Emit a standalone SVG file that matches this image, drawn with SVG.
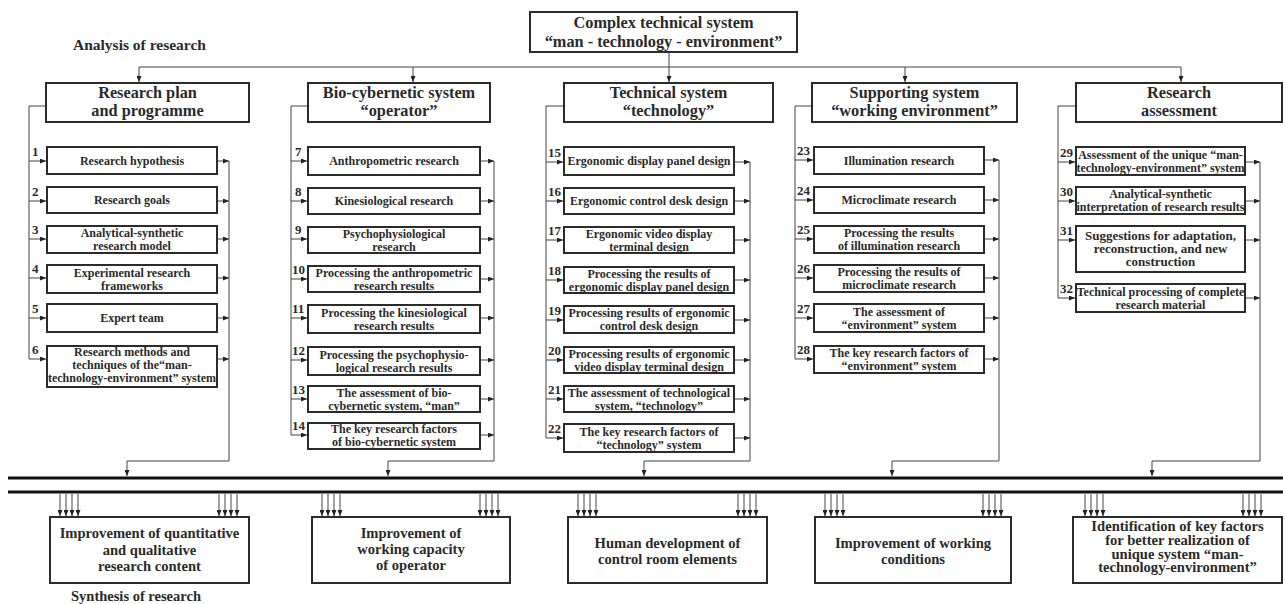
<svg xmlns="http://www.w3.org/2000/svg" width="1285" height="604" viewBox="0 0 1285 604">
<style>
.b{fill:#fff;stroke:#2b2b2b;stroke-width:2}
.t{font-family:"Liberation Serif","Times New Roman",serif;font-weight:bold;fill:#2a2a2a;text-anchor:middle}
.s{font-size:12px}
.s13{font-size:13px}
.h{font-size:16.3px}
.m{font-size:14.6px}
.n{font-size:13px;text-anchor:start}
.lbl{font-size:15.5px;text-anchor:start}
.c{fill:none;stroke:#444;stroke-width:1}
.a{marker-end:url(#ar)}
.bus{stroke:#111;stroke-width:3}
</style>
<defs>
<marker id="ar" markerUnits="userSpaceOnUse" markerWidth="6" markerHeight="5" refX="6" refY="2.5" orient="auto"><path d="M0,0 L6,2.5 L0,5 z" fill="#222"/></marker>
</defs>
<rect width="1285" height="604" fill="#fff"/>

<g id="labels">
<text class="t lbl" x="73" y="50">Analysis of research</text>
<text class="t lbl" x="71" y="601" style="font-size:14.5px">Synthesis of research</text>
</g>

<g id="connectors">
<path class="c a" d="M669,53 V82"/>
<path class="c" d="M139,67 H1181"/>
<path class="c a" d="M139,67 V82"/>
<path class="c a" d="M413,67 V82"/>
<path class="c a" d="M905,67 V82"/>
<path class="c a" d="M1181,67 V82"/>
<!-- col1 -->
<path class="c" d="M46,106 H29 V359"/>
<path class="c a" d="M29,161 H46"/><path class="c a" d="M29,201 H46"/><path class="c a" d="M29,239 H46"/><path class="c a" d="M29,278 H46"/><path class="c a" d="M29,318 H46"/><path class="c a" d="M29,359 H46"/>
<path class="c a" d="M218,161 H229"/><path class="c a" d="M218,201 H229"/><path class="c a" d="M218,239 H229"/><path class="c a" d="M218,278 H229"/><path class="c a" d="M218,318 H229"/><path class="c a" d="M218,359 H229"/>
<path class="c a" d="M229,161 V461 H127 V476"/>
<!-- col2 -->
<path class="c" d="M307,106 H291 V435"/>
<path class="c a" d="M291,161 H307"/><path class="c a" d="M291,201 H307"/><path class="c a" d="M291,239 H307"/><path class="c a" d="M291,279 H307"/><path class="c a" d="M291,318 H307"/><path class="c a" d="M291,360 H307"/><path class="c a" d="M291,399 H307"/><path class="c a" d="M291,435 H307"/>
<path class="c a" d="M481,161 H494"/><path class="c a" d="M481,201 H494"/><path class="c a" d="M481,239 H494"/><path class="c a" d="M481,279 H494"/><path class="c a" d="M481,318 H494"/><path class="c a" d="M481,360 H494"/><path class="c a" d="M481,399 H494"/><path class="c a" d="M481,435 H494"/>
<path class="c a" d="M494,161 V461 H388 V476"/>
<!-- col3 -->
<path class="c" d="M563,106 H546 V438"/>
<path class="c a" d="M546,162 H563"/><path class="c a" d="M546,201 H563"/><path class="c a" d="M546,240 H563"/><path class="c a" d="M546,280 H563"/><path class="c a" d="M546,320 H563"/><path class="c a" d="M546,360 H563"/><path class="c a" d="M546,399 H563"/><path class="c a" d="M546,438 H563"/>
<path class="c a" d="M735,162 H750"/><path class="c a" d="M735,201 H750"/><path class="c a" d="M735,240 H750"/><path class="c a" d="M735,280 H750"/><path class="c a" d="M735,320 H750"/><path class="c a" d="M735,360 H750"/><path class="c a" d="M735,399 H750"/><path class="c a" d="M735,438 H750"/>
<path class="c a" d="M750,162 V461 H644 V476"/>
<!-- col4 -->
<path class="c" d="M811,106 H795 V359"/>
<path class="c a" d="M795,160 H813"/><path class="c a" d="M795,200 H813"/><path class="c a" d="M795,239 H813"/><path class="c a" d="M795,278 H813"/><path class="c a" d="M795,318 H813"/><path class="c a" d="M795,359 H813"/>
<path class="c a" d="M985,160 H999"/><path class="c a" d="M985,200 H999"/><path class="c a" d="M985,239 H999"/><path class="c a" d="M985,278 H999"/><path class="c a" d="M985,318 H999"/><path class="c a" d="M985,359 H999"/>
<path class="c a" d="M999,160 V461 H892 V476"/>
<!-- col5 -->
<path class="c" d="M1075,106 H1058 V298"/>
<path class="c a" d="M1058,162 H1075"/><path class="c a" d="M1058,201 H1075"/><path class="c a" d="M1058,240 H1075"/><path class="c a" d="M1058,298 H1075"/>
<path class="c a" d="M1246,162 H1260"/><path class="c a" d="M1246,201 H1260"/><path class="c a" d="M1246,240 H1260"/><path class="c a" d="M1246,298 H1260"/>
<path class="c a" d="M1260,162 V461 H1152 V476"/>
<!-- bus -->
<line class="bus" x1="8" y1="478" x2="1283" y2="478"/>
<line class="bus" x1="8" y1="492" x2="1283" y2="492"/>
<!-- bottom arrows -->
<path class="c a" d="M60,494 V516"/><path class="c a" d="M66,494 V516"/><path class="c a" d="M72,494 V516"/><path class="c a" d="M78,494 V516"/>
<path class="c a" d="M219,494 V516"/><path class="c a" d="M225,494 V516"/><path class="c a" d="M231,494 V516"/><path class="c a" d="M237,494 V516"/>
<path class="c a" d="M322,494 V516"/><path class="c a" d="M328,494 V516"/><path class="c a" d="M334,494 V516"/><path class="c a" d="M340,494 V516"/>
<path class="c a" d="M480,494 V516"/><path class="c a" d="M486,494 V516"/><path class="c a" d="M492,494 V516"/><path class="c a" d="M498,494 V516"/>
<path class="c a" d="M578,494 V516"/><path class="c a" d="M584,494 V516"/><path class="c a" d="M590,494 V516"/><path class="c a" d="M596,494 V516"/>
<path class="c a" d="M738,494 V516"/><path class="c a" d="M744,494 V516"/><path class="c a" d="M750,494 V516"/><path class="c a" d="M756,494 V516"/>
<path class="c a" d="M825,494 V516"/><path class="c a" d="M831,494 V516"/><path class="c a" d="M837,494 V516"/><path class="c a" d="M843,494 V516"/>
<path class="c a" d="M983,494 V516"/><path class="c a" d="M989,494 V516"/><path class="c a" d="M995,494 V516"/><path class="c a" d="M1001,494 V516"/>
<path class="c a" d="M1085,494 V516"/><path class="c a" d="M1091,494 V516"/><path class="c a" d="M1097,494 V516"/><path class="c a" d="M1103,494 V516"/>
<path class="c a" d="M1243,494 V516"/><path class="c a" d="M1249,494 V516"/><path class="c a" d="M1255,494 V516"/><path class="c a" d="M1261,494 V516"/>
</g>

<g id="top"><rect class="b" x="530" y="12" width="267" height="40"/>
<text class="t h" x="663.5" y="28">Complex technical system</text>
<text class="t h" x="663.5" y="47">“man - technology - environment”</text></g>

<g id="h1"><rect class="b" x="46" y="83" width="203" height="39"/><text class="t h" x="147.5" y="98">Research plan</text><text class="t h" x="147.5" y="116">and programme</text></g>
<g id="h2"><rect class="b" x="308" y="83" width="182" height="39"/><text class="t h" x="399" y="98">Bio-cybernetic system</text><text class="t h" x="399" y="116">“operator”</text></g>
<g id="h3"><rect class="b" x="564" y="83" width="209" height="39"/><text class="t h" x="668.5" y="98">Technical system</text><text class="t h" x="668.5" y="116">“technology”</text></g>
<g id="h4"><rect class="b" x="812" y="83" width="205" height="39"/><text class="t h" x="914.5" y="98">Supporting system</text><text class="t h" x="914.5" y="116">“working environment”</text></g>
<g id="h5"><rect class="b" x="1076" y="83" width="206" height="39"/><text class="t h" x="1179" y="98">Research</text><text class="t h" x="1179" y="116">assessment</text></g>

<!-- column 1 -->
<g id="n1"><rect class="b" x="47" y="147" width="170" height="27"/><text class="t n" x="32" y="156">1</text><text class="t s" x="132" y="164.5">Research hypothesis</text></g>
<g id="n2"><rect class="b" x="47" y="187" width="170" height="26"/><text class="t n" x="32" y="196">2</text><text class="t s" x="132" y="204">Research goals</text></g>
<g id="n3"><rect class="b" x="47" y="226" width="170" height="27"/><text class="t n" x="32" y="234">3</text><text class="t s" x="132" y="237">Analytical-synthetic</text><text class="t s" x="132" y="250">research model</text></g>
<g id="n4"><rect class="b" x="47" y="265" width="170" height="28"/><text class="t n" x="32" y="273">4</text><text class="t s" x="132" y="276.5">Experimental research</text><text class="t s" x="132" y="289.5">frameworks</text></g>
<g id="n5"><rect class="b" x="47" y="304" width="170" height="28"/><text class="t n" x="32" y="313">5</text><text class="t s" x="132" y="322">Expert team</text></g>
<g id="n6"><rect class="b" x="47" y="346" width="170" height="41"/><text class="t n" x="32" y="354">6</text><text class="t s" x="132" y="356">Research methods and</text><text class="t s" x="132" y="369">techniques of the“man-</text><text class="t s" x="132" y="382">technology-environment” system</text></g>

<!-- column 2 -->
<g id="n7"><rect class="b" x="308" y="147" width="172" height="28"/><text class="t n" x="295" y="156">7</text><text class="t s" x="394" y="165">Anthropometric research</text></g>
<g id="n8"><rect class="b" x="308" y="188" width="172" height="26"/><text class="t n" x="295" y="196">8</text><text class="t s" x="394" y="205">Kinesiological research</text></g>
<g id="n9"><rect class="b" x="308" y="227" width="172" height="26"/><text class="t n" x="295" y="234">9</text><text class="t s" x="394" y="237.5">Psychophysiological</text><text class="t s" x="394" y="250.5">research</text></g>
<g id="n10"><rect class="b" x="308" y="266" width="172" height="26"/><text class="t n" x="292" y="274">10</text><text class="t s" x="394" y="276.5">Processing the anthropometric</text><text class="t s" x="394" y="289.5">research results</text></g>
<g id="n11"><rect class="b" x="308" y="305" width="172" height="28"/><text class="t n" x="292" y="313">11</text><text class="t s" x="394" y="316.5">Processing the kinesiological</text><text class="t s" x="394" y="329.5">research results</text></g>
<g id="n12"><rect class="b" x="308" y="347" width="172" height="28"/><text class="t n" x="292" y="355">12</text><text class="t s" x="394" y="358.5">Processing the psychophysio-</text><text class="t s" x="394" y="371.5">logical research results</text></g>
<g id="n13"><rect class="b" x="308" y="386" width="172" height="26"/><text class="t n" x="292" y="394">13</text><text class="t s" x="394" y="396.5">The assessment of bio-</text><text class="t s" x="394" y="409.5">cybernetic system, “man”</text></g>
<g id="n14"><rect class="b" x="308" y="423" width="172" height="26"/><text class="t n" x="292" y="430">14</text><text class="t s" x="394" y="433">The key research factors</text><text class="t s" x="394" y="446">of bio-cybernetic system</text></g>

<!-- column 3 -->
<g id="n15"><rect class="b" x="564" y="147" width="170" height="28"/><text class="t n" x="548" y="157">15</text><text class="t s" x="649" y="165">Ergonomic display panel design</text></g>
<g id="n16"><rect class="b" x="564" y="188" width="170" height="26"/><text class="t n" x="548" y="196">16</text><text class="t s" x="649" y="205">Ergonomic control desk design</text></g>
<g id="n17"><rect class="b" x="564" y="227" width="170" height="26"/><text class="t n" x="548" y="235">17</text><text class="t s" x="649" y="237.5">Ergonomic video display</text><text class="t s" x="649" y="250.5">terminal design</text></g>
<g id="n18"><rect class="b" x="564" y="267" width="170" height="26"/><text class="t n" x="548" y="275">18</text><text class="t s" x="649" y="277.5">Processing the results of</text><text class="t s" x="649" y="290.5">ergonomic display panel design</text></g>
<g id="n19"><rect class="b" x="564" y="306" width="170" height="27"/><text class="t n" x="548" y="315">19</text><text class="t s" x="649" y="317">Processing results of ergonomic</text><text class="t s" x="649" y="330">control desk design</text></g>
<g id="n20"><rect class="b" x="564" y="347" width="170" height="26"/><text class="t n" x="548" y="355">20</text><text class="t s" x="649" y="357.5">Processing results of ergonomic</text><text class="t s" x="649" y="370.5">video display terminal design</text></g>
<g id="n21"><rect class="b" x="564" y="386" width="170" height="26"/><text class="t n" x="548" y="394">21</text><text class="t s" x="649" y="396.5">The assessment of technological</text><text class="t s" x="649" y="409.5">system, “technology”</text></g>
<g id="n22"><rect class="b" x="564" y="424" width="170" height="28"/><text class="t n" x="548" y="433">22</text><text class="t s" x="649" y="435.5">The key research factors of</text><text class="t s" x="649" y="448.5">“technology” system</text></g>

<!-- column 4 -->
<g id="n23"><rect class="b" x="814" y="147" width="170" height="27"/><text class="t n" x="797" y="155">23</text><text class="t s" x="899" y="164.5">Illumination research</text></g>
<g id="n24"><rect class="b" x="814" y="187" width="170" height="26"/><text class="t n" x="797" y="195">24</text><text class="t s" x="899" y="204">Microclimate research</text></g>
<g id="n25"><rect class="b" x="814" y="226" width="170" height="27"/><text class="t n" x="797" y="234">25</text><text class="t s" x="899" y="237">Processing the results</text><text class="t s" x="899" y="250">of illumination research</text></g>
<g id="n26"><rect class="b" x="814" y="265" width="170" height="27"/><text class="t n" x="797" y="273">26</text><text class="t s" x="899" y="276">Processing the results of</text><text class="t s" x="899" y="289">microclimate research</text></g>
<g id="n27"><rect class="b" x="814" y="304" width="170" height="28"/><text class="t n" x="797" y="313">27</text><text class="t s" x="899" y="315.5">The assessment of</text><text class="t s" x="899" y="328.5">“environment” system</text></g>
<g id="n28"><rect class="b" x="814" y="346" width="170" height="27"/><text class="t n" x="797" y="354">28</text><text class="t s" x="899" y="357">The key research factors of</text><text class="t s" x="899" y="370">“environment” system</text></g>

<!-- column 5 -->
<g id="n29"><rect class="b" x="1076" y="147" width="169" height="28"/><text class="t n" x="1060" y="157">29</text><text class="t s" x="1160.5" y="158.5">Assessment of the unique “man-</text><text class="t s" x="1160.5" y="171.5">technology-environment” system</text></g>
<g id="n30"><rect class="b" x="1076" y="187" width="169" height="27"/><text class="t n" x="1060" y="196">30</text><text class="t s" x="1160.5" y="198">Analytical-synthetic</text><text class="t s" x="1160.5" y="211">interpretation of research results</text></g>
<g id="n31"><rect class="b" x="1076" y="226" width="169" height="46"/><text class="t n" x="1060" y="235">31</text><text class="t s13" x="1160.5" y="240">Suggestions for adaptation,</text><text class="t s13" x="1160.5" y="253">reconstruction, and new</text><text class="t s13" x="1160.5" y="266">construction</text></g>
<g id="n32"><rect class="b" x="1076" y="284" width="169" height="28"/><text class="t n" x="1060" y="293">32</text><text class="t s" x="1160.5" y="295.5">Technical processing of complete</text><text class="t s" x="1160.5" y="308.5">research material</text></g>

<!-- bottom -->
<g id="r1"><rect class="b" x="50" y="517" width="199" height="66"/><text class="t m" x="149.5" y="538">Improvement of quantitative</text><text class="t m" x="149.5" y="555">and qualitative</text><text class="t m" x="149.5" y="571">research content</text></g>
<g id="r2"><rect class="b" x="312" y="517" width="198" height="66"/><text class="t m" x="411" y="538">Improvement of</text><text class="t m" x="411" y="554">working capacity</text><text class="t m" x="411" y="570">of operator</text></g>
<g id="r3"><rect class="b" x="568" y="517" width="199" height="66"/><text class="t m" x="667.5" y="548">Human development of</text><text class="t m" x="667.5" y="564">control room elements</text></g>
<g id="r4"><rect class="b" x="815" y="517" width="196" height="66"/><text class="t m" x="913" y="548">Improvement of working</text><text class="t m" x="913" y="564">conditions</text></g>
<g id="r5"><rect class="b" x="1073" y="517" width="209" height="66"/><text class="t m" x="1177.5" y="531">Identification of key factors</text><text class="t m" x="1177.5" y="545">for better realization of</text><text class="t m" x="1177.5" y="558.5">unique system “man-</text><text class="t m" x="1177.5" y="572">technology-environment”</text></g>
</svg>
